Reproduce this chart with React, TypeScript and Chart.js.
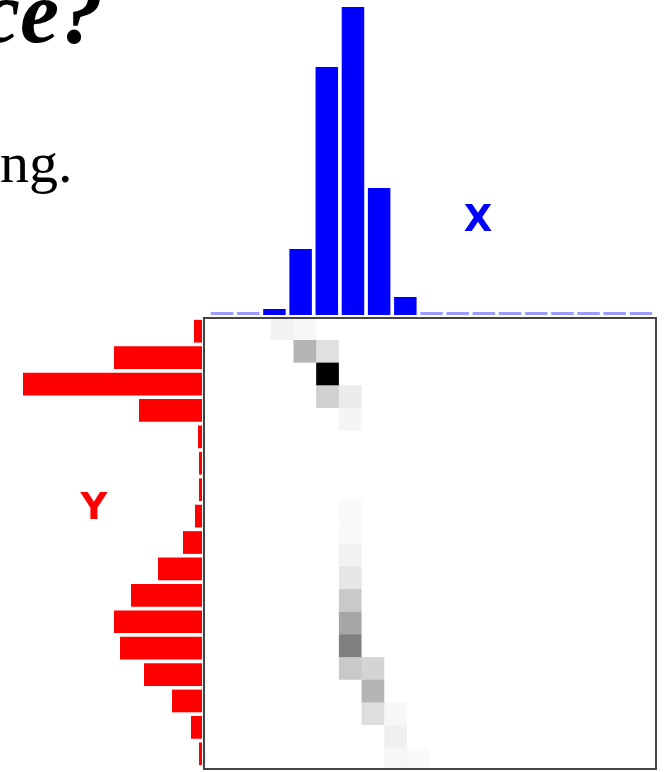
import React, { useEffect, useRef } from "react";
import { Chart, registerables } from "chart.js";

Chart.register(...registerables);

// Marginal histogram of X (top, blue) – 17 bins
const X_BINS = ["1", "2", "3", "4", "5", "6", "7", "8", "9", "10", "11", "12", "13", "14", "15", "16", "17"];
const X_COUNTS = [0, 0, 6, 66, 248, 308, 127, 18, 0, 0, 0, 0, 0, 0, 0, 0, 0];

// Marginal histogram of Y (left, red) – 17 bins, top to bottom
const Y_BINS = ["1", "2", "3", "4", "5", "6", "7", "8", "9", "10", "11", "12", "13", "14", "15", "16", "17"];
const Y_COUNTS = [8, 88, 179, 63, 4, 3, 3, 7, 19, 44, 71, 88, 82, 58, 30, 11, 3];

// Joint histogram (20 x 20 grid), non-empty cells only
const GRID_COLS = ["c1", "c2", "c3", "c4", "c5", "c6", "c7", "c8", "c9", "c10", "c11", "c12", "c13", "c14", "c15", "c16", "c17", "c18", "c19", "c20"];
const GRID_ROWS = ["r1", "r2", "r3", "r4", "r5", "r6", "r7", "r8", "r9", "r10", "r11", "r12", "r13", "r14", "r15", "r16", "r17", "r18", "r19", "r20"];
const CELL_ROWS = [0, 0, 1, 1, 2, 3, 3, 4, 8, 9, 10, 11, 12, 13, 14, 15, 15, 16, 17, 17, 18, 19, 19];
const CELL_COLS = [3, 4, 4, 5, 5, 5, 6, 6, 6, 6, 6, 6, 6, 6, 6, 6, 7, 7, 7, 8, 8, 8, 9];
const CELL_VALUES = [0.05, 0.03, 0.29, 0.12, 1.0, 0.18, 0.08, 0.04, 0.02, 0.025, 0.05, 0.1, 0.21, 0.35, 0.5, 0.21, 0.17, 0.29, 0.13, 0.03, 0.06, 0.03, 0.02];

const SERIF = "'Liberation Serif', 'Times New Roman', Times, serif";
const SANS = "'DejaVu Sans', Verdana, sans-serif";

const baseOptions = {
  responsive: false,
  animation: false as const,
  events: [] as any[],
  layout: { padding: 0 },
  plugins: { legend: { display: false }, tooltip: { enabled: false } },
};

const boxBorder = {
  id: "boxBorder",
  afterDraw(chart: any) {
    const { ctx, chartArea } = chart;
    ctx.save();
    ctx.strokeStyle = "#444444";
    ctx.lineWidth = 2;
    ctx.strokeRect(chartArea.left + 1, chartArea.top + 1, chartArea.right - chartArea.left - 2, chartArea.bottom - chartArea.top - 2);
    ctx.restore();
  },
};

function useChart(ref: React.RefObject<HTMLCanvasElement | null>, make: (c: HTMLCanvasElement) => Chart) {
  useEffect(() => {
    if (!ref.current) return;
    const chart = make(ref.current);
    return () => chart.destroy();
  }, []);
}

export default function App() {
  const topRef = useRef<HTMLCanvasElement>(null);
  const leftRef = useRef<HTMLCanvasElement>(null);
  const gridRef = useRef<HTMLCanvasElement>(null);

  useChart(topRef, (c) =>
    new Chart(c, {
      type: "bar",
      data: {
        labels: X_BINS,
        datasets: [
          {
            data: X_COUNTS,
            backgroundColor: X_COUNTS.map((v) => (v === 0 ? "#9c9cff" : "#0000ff")),
            borderWidth: 0,
            minBarLength: 3,
            categoryPercentage: 1,
            barPercentage: 0.86,
          },
        ],
      },
      options: {
        ...baseOptions,
        scales: {
          x: { display: false },
          y: { display: false, min: 0, max: 315 },
        },
      } as any,
    })
  );

  useChart(leftRef, (c) =>
    new Chart(c, {
      type: "bar",
      data: {
        labels: Y_BINS,
        datasets: [
          {
            data: Y_COUNTS,
            backgroundColor: "#ff0000",
            borderWidth: 0,
            categoryPercentage: 1,
            barPercentage: 0.86,
          },
        ],
      },
      options: {
        ...baseOptions,
        indexAxis: "y",
        scales: {
          x: { display: false, min: 0, max: 202, reverse: true },
          y: { display: false },
        },
      } as any,
    })
  );

  useChart(gridRef, (c) => {
    const shade = (r: number, col: number) => {
      let d = 0;
      for (let i = 0; i < CELL_VALUES.length; i++) {
        if (CELL_ROWS[i] === r && CELL_COLS[i] === col) d = CELL_VALUES[i];
      }
      const g = Math.round(255 * (1 - d));
      return `rgb(${g},${g},${g})`;
    };
    return new Chart(c, {
      type: "bar",
      data: {
        labels: GRID_COLS,
        datasets: GRID_ROWS.map((_, r) => ({
          label: GRID_ROWS[r],
          data: GRID_COLS.map(() => 1),
          backgroundColor: GRID_COLS.map((_, col) => shade(r, col)),
          borderWidth: 0,
          categoryPercentage: 1,
          barPercentage: 1,
        })),
      },
      options: {
        ...baseOptions,
        scales: {
          x: { display: false, stacked: true },
          y: { display: false, stacked: true, min: 0, max: GRID_ROWS.length, reverse: true },
        },
      } as any,
      plugins: [boxBorder],
    });
  });

  return (
    <div
      style={{
        position: "fixed",
        left: 0,
        top: 0,
        width: 668,
        height: 772,
        overflow: "hidden",
        background: "#ffffff",
      }}
    >
      <div
        style={{
          position: "absolute",
          left: -19,
          top: -31,
          fontFamily: SERIF,
          fontStyle: "italic",
          fontWeight: 700,
          fontSize: 88,
          lineHeight: 1,
          color: "#000",
          whiteSpace: "nowrap",
        }}
      >
        ce?
      </div>
      <div
        style={{
          position: "absolute",
          left: 0,
          top: 134,
          fontFamily: SERIF,
          fontSize: 58,
          lineHeight: 1,
          color: "#000",
          whiteSpace: "nowrap",
        }}
      >
        ng.
      </div>
      <canvas ref={topRef} width={445} height={315} style={{ position: "absolute", left: 209, top: 0, width: 445, height: 315 }} />
      <canvas ref={leftRef} width={202} height={449} style={{ position: "absolute", left: 0, top: 318, width: 202, height: 449 }} />
      <canvas ref={gridRef} width={454} height={453} style={{ position: "absolute", left: 203, top: 317, width: 454, height: 453 }} />
      <div
        style={{
          position: "absolute",
          left: 478,
          top: 218,
          transform: "translate(-50%, -50%)",
          fontFamily: SANS,
          fontWeight: 700,
          fontSize: 37,
          lineHeight: 1,
          color: "#0000ff",
        }}
      >
        X
      </div>
      <div
        style={{
          position: "absolute",
          left: 94,
          top: 506,
          transform: "translate(-50%, -50%)",
          fontFamily: SANS,
          fontWeight: 700,
          fontSize: 37,
          lineHeight: 1,
          color: "#ff0000",
        }}
      >
        Y
      </div>
    </div>
  );
}
